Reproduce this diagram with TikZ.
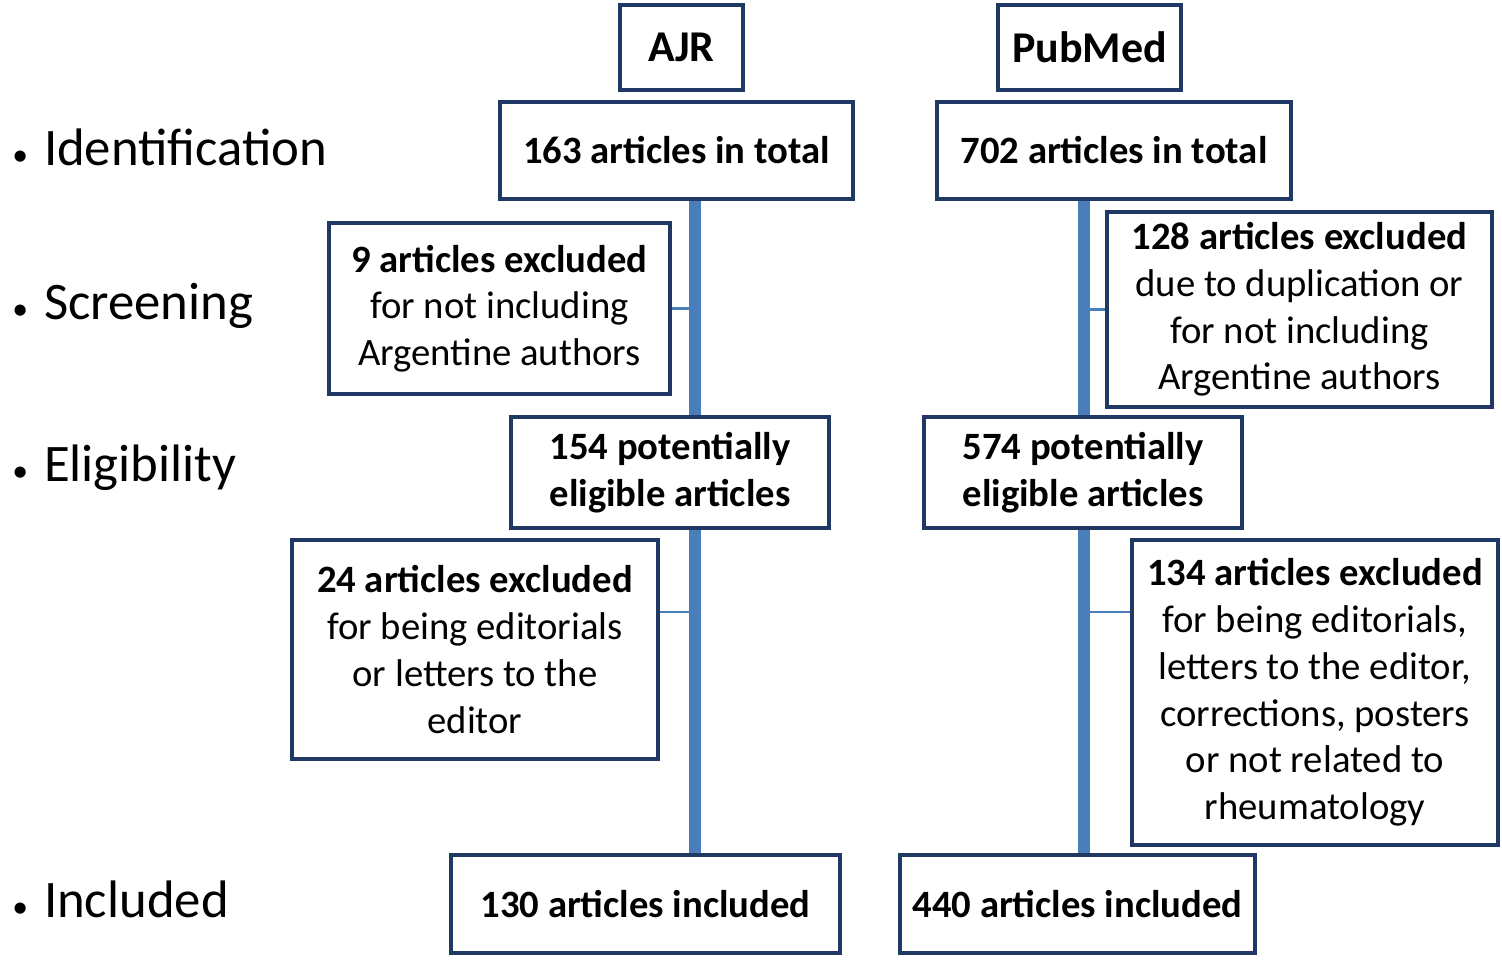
\documentclass[tikz,border=0pt]{standalone}
\usepackage{fontspec}
\setmainfont{Carlito}
\usetikzlibrary{positioning}
\definecolor{boxline}{HTML}{1F3864}
\definecolor{barblue}{HTML}{4A7EBB}
\begin{document}
\begin{tikzpicture}[x=0.01cm,y=-0.01cm,
    flowbox/.style={draw=boxline,line width=1.3pt,align=center,inner sep=0pt,font=\fontsize{11}{13.3}\selectfont},
    stagelabel/.style={anchor=west,font=\fontsize{15}{18}\selectfont},
    bar/.style={barblue,line width=0.12cm},
    tick/.style={barblue,line width=0.6pt}]
    \useasboundingbox (0,0) rectangle (1502,960);
    % sources
    \node[flowbox,minimum width=1.23cm,minimum height=0.85cm,font=\fontsize{12.5}{15}\selectfont] (ajr) at (681.5,47.5) {\textbf{AJR}};
    \node[flowbox,minimum width=1.83cm,minimum height=0.85cm,font=\fontsize{12.5}{15}\selectfont] (pubmed) at (1089.5,47.5) {\textbf{PubMed}};
    \node[flowbox,minimum width=3.53cm,minimum height=0.97cm] (ajrtotal) at (676.5,150.5) {\textbf{163 articles in total}};
    \node[flowbox,minimum width=3.54cm,minimum height=0.97cm] (pmtotal) at (1114,150.5) {\textbf{702 articles in total}};
    % screening
    \node[flowbox,minimum width=3.41cm,minimum height=1.71cm] (ajrscr) at (499.5,308.5) {\textbf{9 articles excluded}\\for not including\\Argentine authors};
    \node[flowbox,minimum width=3.85cm,minimum height=1.95cm] (pmscr) at (1299.5,309.5) {\textbf{128 articles excluded}\\due to duplication or\\for not including\\Argentine authors};
    % eligibility
    \node[flowbox,minimum width=3.18cm,minimum height=1.11cm] (ajrelig) at (670,472.5) {\textbf{154 potentially}\\\textbf{eligible articles}};
    \node[flowbox,minimum width=3.18cm,minimum height=1.11cm] (pmelig) at (1083,472.5) {\textbf{574 potentially}\\\textbf{eligible articles}};
    \node[flowbox,minimum width=3.66cm,minimum height=2.19cm] (ajrexc) at (475,649.5) {\textbf{24 articles excluded}\\for being editorials\\or letters to the\\editor};
    \node[flowbox,minimum width=3.66cm,minimum height=3.05cm] (pmexc) at (1315,692.5) {\textbf{134 articles excluded}\\for being editorials,\\letters to the editor,\\corrections, posters\\or not related to\\rheumatology};
    % included
    \node[flowbox,minimum width=3.89cm,minimum height=0.98cm] (ajrinc) at (645.5,904) {\textbf{130 articles included}};
    \node[flowbox,minimum width=3.55cm,minimum height=0.98cm] (pminc) at (1077.5,904) {\textbf{440 articles included}};
    % stages
    \node[stagelabel] (sid) at (0,147) {{\small\textbullet}\hspace{0.3em}Identification};
    \node[stagelabel] (sscr) at (0,306) {{\small\textbullet}\hspace{0.3em}Screening};
    \node[stagelabel] (selig) at (0,468) {{\small\textbullet}\hspace{0.3em}Eligibility};
    \node[stagelabel] (sinc) at (0,899) {{\small\textbullet}\hspace{0.3em}Included};
    % connectors
    \coordinate (ajrx) at (695,0);
    \coordinate (pmx) at (1084,0);
    \draw[bar] (ajrtotal.south -| ajrx) -- (ajrelig.north -| ajrx);
    \draw[bar] (ajrelig.south -| ajrx) -- (ajrinc.north -| ajrx);
    \draw[bar] (pmtotal.south -| pmx) -- (pmelig.north -| pmx);
    \draw[bar] (pmelig.south -| pmx) -- (pminc.north -| pmx);
    \draw[tick] (ajrscr.east) -- (ajrscr.east -| ajrx);
    \draw[tick] (ajrexc.east |- 0,612) -- (ajrx |- 0,612);
    \draw[tick] (pmscr.west) -- (pmscr.west -| pmx);
    \draw[tick] (pmexc.west |- 0,612) -- (pmx |- 0,612);
\end{tikzpicture}
\end{document}
